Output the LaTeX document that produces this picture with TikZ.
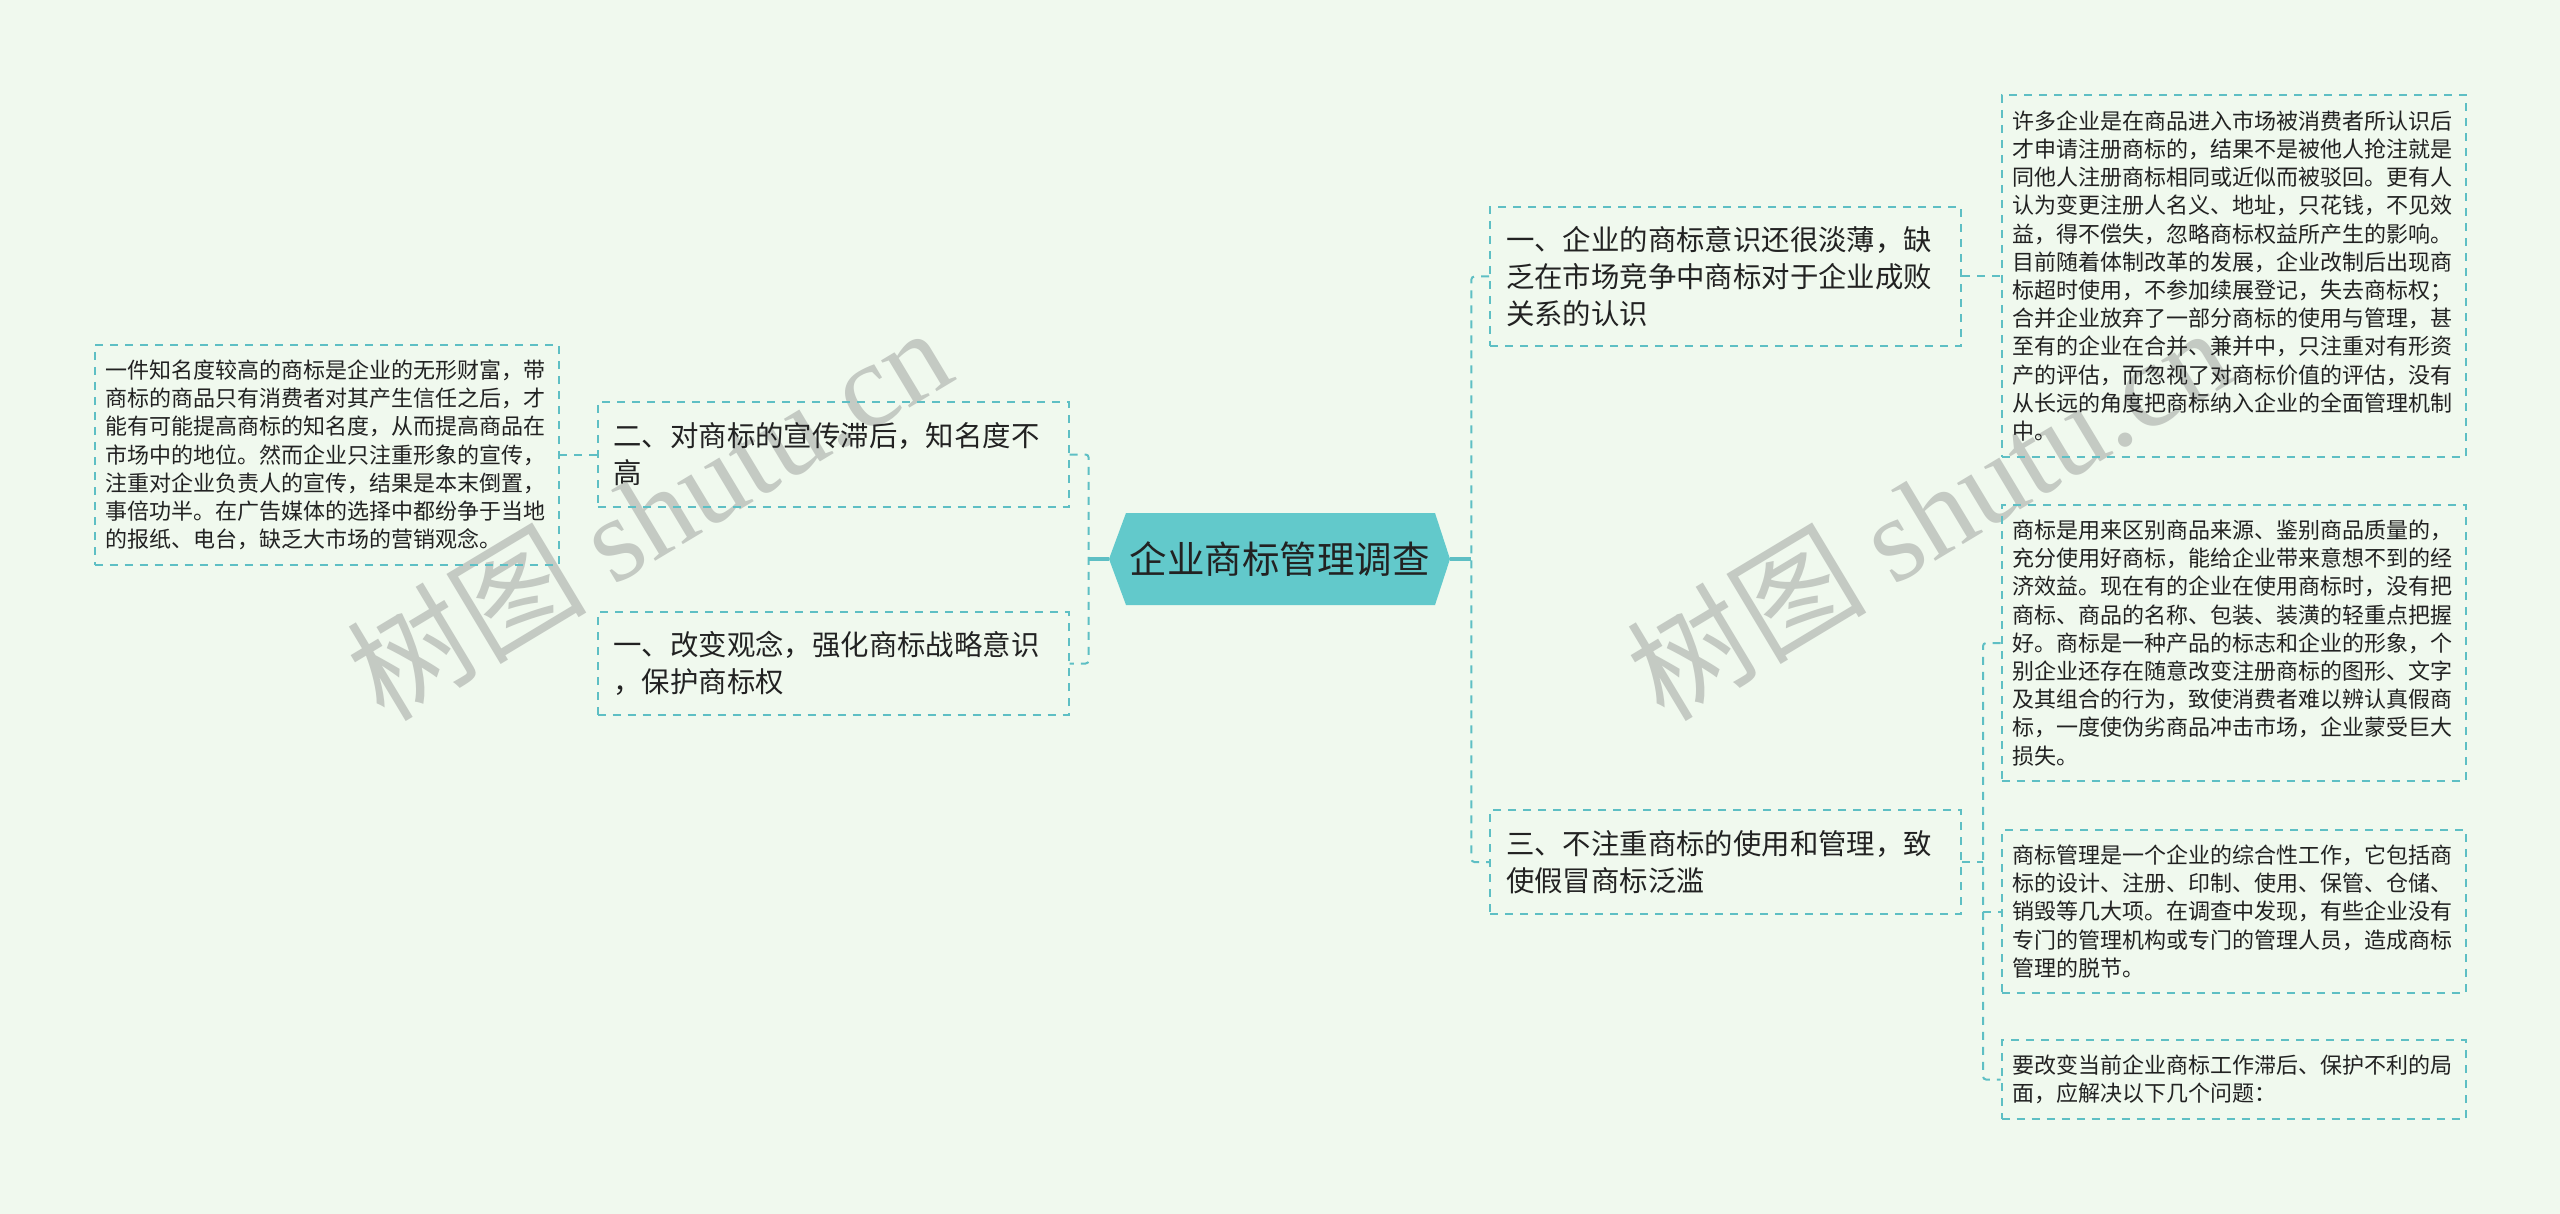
\documentclass[tikz,border=0pt]{standalone}
\usepackage{fontspec}
\setmainfont{Noto Sans CJK SC}
\newfontfamily\cjk{Noto Sans CJK SC}
\newfontfamily\wmserif{Liberation Serif}
\definecolor{bgc}{RGB}{240,249,238}
\definecolor{linec}{RGB}{94,191,196}
\definecolor{hexc}{RGB}{98,201,203}
\definecolor{txtc}{RGB}{34,34,34}
\definecolor{wmc}{RGB}{196,202,195}
\begin{document}
\begin{tikzpicture}[x=0.5pt,y=-0.5pt,
  box/.style={draw=linec, line width=1pt, dash pattern=on 4pt off 3.5pt, align=left, text=txtc, inner ysep=0pt, anchor=center},
  smallbox/.style={box, text width=221pt, inner xsep=5.5pt, font=\fontsize{11}{14.1}\selectfont},
  midbox/.style={box, text width=219.5pt, inner xsep=8pt, font=\fontsize{14.2}{18.6}\selectfont},
  link/.style={draw=linec, line width=1pt, dash pattern=on 4pt off 3.5pt, rounded corners=1.5pt},
  solidlink/.style={draw=linec, line width=1.6pt},
  wm/.style={text=wmc, inner sep=0pt, font=\fontsize{60}{60}\selectfont, rotate=31}]
\useasboundingbox (0,0) rectangle (2560,1214);
\fill[bgc] (0,0) rectangle (2560,1214);
% watermarks
\node[wm] (wm1) at (648,512) {{\cjk 树图} {\wmserif shutu.cn}};
\node[wm] (wm2) at (1928,512) {{\cjk 树图} {\wmserif shutu.cn}};
% central topic
\fill[hexc] (1109,559) -- (1126,513) -- (1435,513) -- (1450,559) -- (1435,605) -- (1126,605) -- cycle;
\node[font=\fontsize{18.75}{22}\selectfont, text=txtc, minimum width=170.5pt, minimum height=46pt, inner sep=0pt] (c) at (1279.5,559) {企业商标管理调查};
% left side
\node[midbox, minimum height=52.5pt] (L1) at (833,454.5) {二、对商标的宣传滞后，知名度不\\高};
\node[midbox, minimum height=51.5pt] (L2) at (833,663.5) {一、改变观念，强化商标战略意识\\，保护商标权};
\node[smallbox, minimum height=110pt] (L3) at (326.5,455) {一件知名度较高的商标是企业的无形财富，带\\商标的商品只有消费者对其产生信任之后，才\\能有可能提高商标的知名度，从而提高商品在\\市场中的地位。然而企业只注重形象的宣传，\\注重对企业负责人的宣传，结果是本末倒置，\\事倍功半。在广告媒体的选择中都纷争于当地\\的报纸、电台，缺乏大市场的营销观念。};
% right side
\node[midbox, minimum height=69.5pt] (R1) at (1725.5,276.5) {一、企业的商标意识还很淡薄，缺\\乏在市场竞争中商标对于企业成败\\关系的认识};
\node[midbox, minimum height=52pt] (R2) at (1725.5,862) {三、不注重商标的使用和管理，致\\使假冒商标泛滥};
\node[smallbox, minimum height=181pt] (R3) at (2233.5,276) {许多企业是在商品进入市场被消费者所认识后\\才申请注册商标的，结果不是被他人抢注就是\\同他人注册商标相同或近似而被驳回。更有人\\认为变更注册人名义、地址，只花钱，不见效\\益，得不偿失，忽略商标权益所产生的影响。\\目前随着体制改革的发展，企业改制后出现商\\标超时使用，不参加续展登记，失去商标权；\\合并企业放弃了一部分商标的使用与管理，甚\\至有的企业在合并、兼并中，只注重对有形资\\产的评估，而忽视了对商标价值的评估，没有\\从长远的角度把商标纳入企业的全面管理机制\\中。};
\node[smallbox, minimum height=138pt] (R4) at (2233.5,643) {商标是用来区别商品来源、鉴别商品质量的，\\充分使用好商标，能给企业带来意想不到的经\\济效益。现在有的企业在使用商标时，没有把\\商标、商品的名称、包装、装潢的轻重点把握\\好。商标是一种产品的标志和企业的形象，个\\别企业还存在随意改变注册商标的图形、文字\\及其组合的行为，致使消费者难以辨认真假商\\标，一度使伪劣商品冲击市场，企业蒙受巨大\\损失。};
\node[smallbox, minimum height=81.5pt] (R5) at (2233.5,911.5) {商标管理是一个企业的综合性工作，它包括商\\标的设计、注册、印制、使用、保管、仓储、\\销毁等几大项。在调查中发现，有些企业没有\\专门的管理机构或专门的管理人员，造成商标\\管理的脱节。};
\node[smallbox, minimum height=39.5pt] (R6) at (2233.5,1079.5) {要改变当前企业商标工作滞后、保护不利的局\\面，应解决以下几个问题：};
% connectors
\draw[solidlink] (c.west) -- ++(-20,0) coordinate (lt);
\draw[link] (L1.east) -- (L1.east -| lt) -- (L2.east -| lt) -- (L2.east);
\draw[link] (L1.west) -- (L1.west -| L3.east);
\draw[solidlink] (c.east) -- ++(21,0) coordinate (rt);
\draw[link] (R1.west) -- (R1.west -| rt) -- (R2.west -| rt) -- (R2.west);
\draw[link] (R1.east) -- (R1.east -| R3.west);
\draw[link] (R2.east) -- ++(21,0) coordinate (rt2);
\draw[link] (R4.west) -- (R4.west -| rt2) -- (R6.west -| rt2) -- (R6.west);
\draw[link] (R5.west -| rt2) -- (R5.west);
\end{tikzpicture}
\end{document}
